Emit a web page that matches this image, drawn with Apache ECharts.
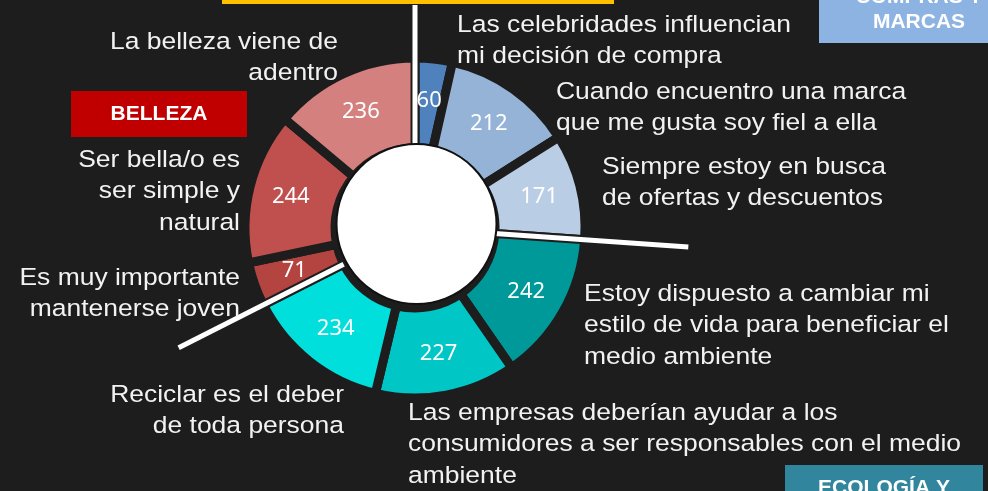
<!DOCTYPE html>
<html>
<head>
<meta charset="utf-8">
<script src="https://cdn.jsdelivr.net/npm/echarts@6/dist/echarts.min.js"></script>
<style>
    html, body { margin: 0; padding: 0; background: #1d1d1d; }
    #chart { width: 988px; height: 491px; }
</style>
</head>
<body>
<div id="chart"></div>
<script>
// data, clockwise from 12 o'clock
const categories = [
    'Las celebridades influencian\nmi decisión de compra',
    'Cuando encuentro una marca\nque me gusta soy fiel a ella',
    'Siempre estoy en busca\nde ofertas y descuentos',
    'Estoy dispuesto a cambiar mi\nestilo de vida para beneficiar el\nmedio ambiente',
    'Las empresas deberían ayudar a los\nconsumidores a ser responsables con el medio\nambiente',
    'Reciclar es el deber\nde toda persona',
    'Es muy importante\nmantenerse joven',
    'Ser bella/o es\nser simple y\nnatural',
    'La belleza viene de\nadentro',
]
const values = [60, 212, 171, 242, 227, 234, 71, 244, 236]
const groupNames = ['COMPRAS Y\nMARCAS', 'ECOLOGÍA Y', 'BELLEZA']
const groupStarts = [0, 3, 6]

const colors = ['#4f81bd', '#95b3d7', '#b9cde5', '#009999', '#00c6c6', '#00dfdb', '#b3443f', '#c0504d', '#d4807f']
const bg = '#1d1d1d'
const cx = 415, cy = 228

// where each category text sits: [x, first line centre y, align]
const labelPos = [
    [457, 25, 'left'], [556, 92, 'left'], [602, 167, 'left'],
    [584, 294, 'left'], [408, 413, 'left'], [344, 395, 'right'],
    [240, 278, 'right'], [240, 160, 'right'], [338, 42, 'right'],
]
// box for each group: [x, y, w, h, colour, last line centre y]
const groupBox = [
    [819, -30, 200, 73, '#8db3e2', 22],
    [785, 465, 198, 60, '#31859c', 488],
    [71, 91, 176, 46, '#c00000', 114],
]
const sepLen = [223, 274, 265]

const total = values.reduce((a, b) => a + b, 0)
const lineH = 31.5
const graphics = []

// yellow header bar (clipped at top)
graphics.push({ type: 'rect', shape: { x: 222, y: -20, width: 392, height: 24 }, style: { fill: '#ffc000' }, z: 100 })

// white centre disc
graphics.push({ type: 'circle', shape: { cx: 416.5, cy: 224, r: 80 }, style: { fill: '#fff', stroke: '#111', lineWidth: 2 }, z: 100 })

// separators between groups
groupStarts.forEach((start, i) => {
    let cum = 0
    for (let k = 0; k < start; k++) cum += values[k]
    const a = (cum / total) * Math.PI * 2
    const r0 = 80, r1 = sepLen[i]
    graphics.push({
        type: 'line',
        shape: {
            x1: cx + r0 * Math.sin(a), y1: cy - r0 * Math.cos(a),
            x2: cx + r1 * Math.sin(a), y2: cy - r1 * Math.cos(a),
        },
        style: { stroke: '#fff', lineWidth: 5 },
        z: 99,
    })
})

// category texts (slightly stretched, like the original's Arial)
categories.forEach((name, i) => {
    const p = labelPos[i]
    graphics.push({
        type: 'text',
        x: p[0],
        y: p[1] - lineH / 2,
        scaleX: 1.08,
        z: 101,
        style: {
            text: name,
            fill: '#f2f2f2',
            font: '24.5px "Liberation Sans", Arial, sans-serif',
            align: p[2],
            verticalAlign: 'top',
            lineHeight: lineH,
        },
    })
})

// group boxes
groupNames.forEach((name, i) => {
    const b = groupBox[i]
    graphics.push({ type: 'rect', shape: { x: b[0], y: b[1], width: b[2], height: b[3] }, style: { fill: b[4] }, z: 100 })
    const n = name.split('\n').length
    graphics.push({
        type: 'text',
        x: b[0] + b[2] / 2,
        y: b[5] + 12.5 - n * 25,
        z: 101,
        style: {
            text: name,
            fill: '#fff',
            font: 'bold 21px "Liberation Sans", Arial, sans-serif',
            align: 'center',
            verticalAlign: 'top',
            lineHeight: 25,
        },
    })
})

const chart = echarts.init(document.getElementById('chart'))
chart.setOption({
    backgroundColor: bg,
    animation: false,
    graphic: { elements: graphics },
    series: [
        {
            type: 'pie',
            center: [cx, cy],
            radius: [80, 170],
            startAngle: 90,
            clockwise: true,
            avoidLabelOverlap: false,
            silent: true,
            itemStyle: { borderColor: bg, borderWidth: 9 },
            label: {
                show: true,
                position: 'inside',
                formatter: '{c}',
                color: '#fff',
                fontSize: 22,
                fontFamily: '"Noto Sans", sans-serif',
            },
            labelLine: { show: false },
            data: values.map((v, i) => ({
                value: v,
                name: categories[i],
                itemStyle: { color: colors[i] },
            })),
        },
    ],
})
</script>
</body>
</html>
